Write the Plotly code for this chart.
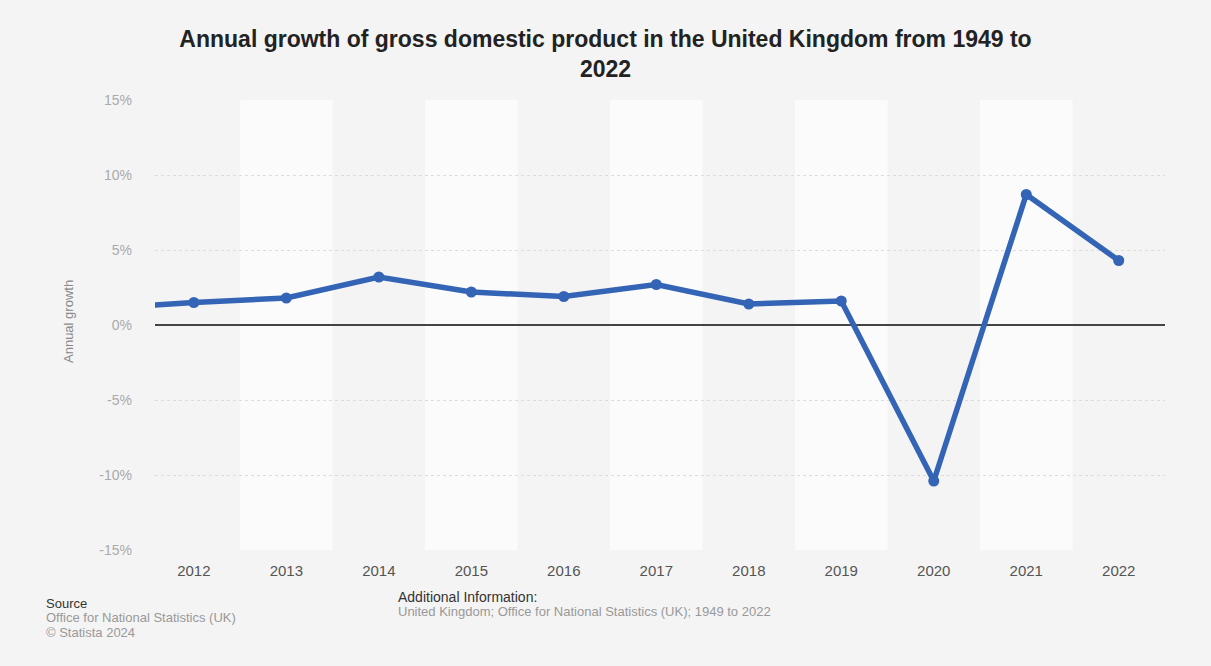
import plotly.graph_objects as go

# Annual GDP growth, United Kingdom (percent)
years = [2011, 2012, 2013, 2014, 2015, 2016, 2017, 2018, 2019, 2020, 2021, 2022]
growth = [1.1, 1.5, 1.8, 3.2, 2.2, 1.9, 2.7, 1.4, 1.6, -10.4, 8.7, 4.3]

shown_years = years[1:]
y_ticks = [-15, -10, -5, 0, 5, 10, 15]

title_text = "Annual growth of gross domestic product in the United Kingdom from 1949 to<br>2022"
y_title = "Annual growth"

line_color = "#3464b6"
font_family = "Liberation Sans, Arial, sans-serif"

W, H = 1211, 666
M_L, M_R, M_T, M_B = 155, 46, 100, 116
PW, PH = W - M_L - M_R, H - M_T - M_B


def px_x(px):
    """Horizontal pixel position -> paper coordinate."""
    return (px - M_L) / PW


def px_y(py):
    """Vertical pixel position (from top) -> paper coordinate."""
    return (H - M_B - py) / PH


fig = go.Figure()

fig.add_trace(go.Scatter(
    x=years,
    y=growth,
    mode="lines+markers",
    line=dict(color=line_color, width=5.5),
    marker=dict(color=line_color, size=11),
    hoverinfo="x+y",
    showlegend=False,
))

# Alternating column shading behind every other year
shapes = []
for i, yr in enumerate(shown_years):
    if i % 2 == 1:
        shapes.append(dict(
            type="rect", xref="x", yref="paper",
            x0=yr - 0.5, x1=yr + 0.5, y0=0, y1=1,
            fillcolor="#fbfbfb", line=dict(width=0), layer="below",
        ))


def note(text, x, y, size, color):
    return dict(text=text, x=px_x(x), y=px_y(y), xref="paper", yref="paper",
                xanchor="left", yanchor="middle", showarrow=False,
                font=dict(size=size, color=color))


annotations = [
    dict(text=y_title, textangle=-90, x=px_x(68), y=px_y(322),
         xref="paper", yref="paper", xanchor="center", yanchor="middle",
         showarrow=False, font=dict(size=13, color="#888")),
    note("Source", 44, 603, 13, "#333"),
    note("Office for National Statistics (UK)", 44, 617, 13, "#999"),
    note("© Statista 2024", 44, 632, 13, "#999"),
    note("Additional Information:", 396, 597, 14, "#333"),
    note("United Kingdom; Office for National Statistics (UK); 1949 to 2022", 396, 611, 13, "#999"),
]

fig.update_layout(
    width=W, height=H,
    margin=dict(l=M_L, r=M_R, t=M_T, b=M_B),
    paper_bgcolor="#f4f4f4",
    plot_bgcolor="#f4f4f4",
    font=dict(family=font_family),
    title=dict(
        text=f"<b>{title_text}</b>",
        x=0.5, xanchor="center", xref="container", y=1 - 47 / H, yanchor="middle",
        font=dict(size=23, color="#222", family=font_family),
    ),
    shapes=shapes,
    annotations=annotations,
    xaxis=dict(
        range=[2011.58, 2022.5],
        tickvals=shown_years,
        ticktext=[str(y) for y in shown_years],
        showgrid=False, zeroline=False, showline=False,
        ticks="", ticklabelstandoff=10,
        tickfont=dict(size=15, color="#555"),
        fixedrange=True,
    ),
    yaxis=dict(
        range=[-15, 15],
        tickvals=y_ticks,
        ticktext=[f"{v}%" for v in y_ticks],
        showgrid=True, gridcolor="#dcdcdc", griddash="dot", gridwidth=1,
        zeroline=True, zerolinecolor="#444", zerolinewidth=1.5,
        showline=False, ticks="", ticklabelstandoff=22,
        tickfont=dict(size=14, color="#aaa"),
        fixedrange=True,
    ),
)

fig.write_html("out.html")
